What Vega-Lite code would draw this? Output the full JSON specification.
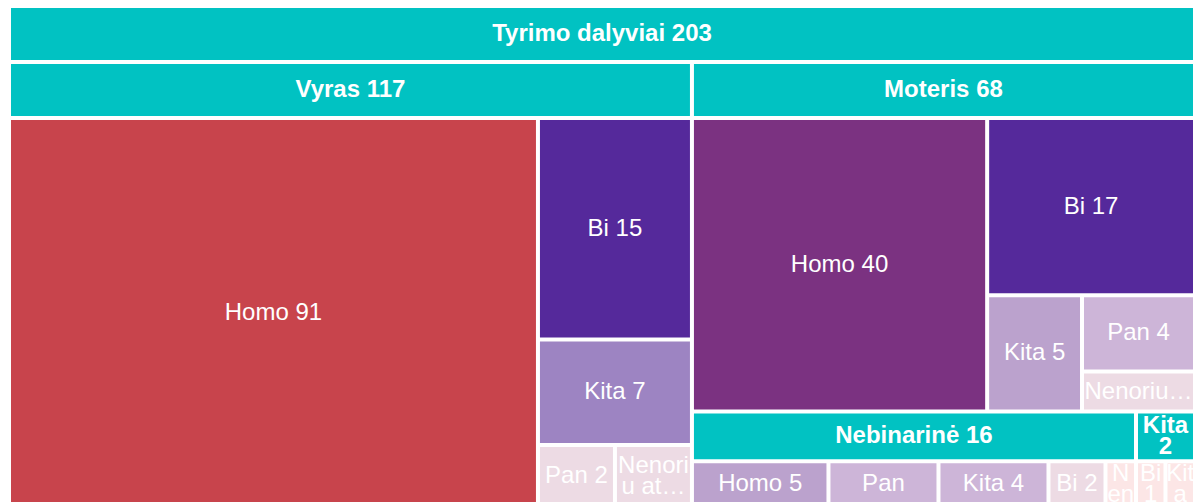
{
  "$schema": "https://vega.github.io/schema/vega-lite/v6.json",
  "autosize": "none",
  "width": 1182,
  "height": 494,
  "padding": {"left": 11, "top": 8, "right": 0, "bottom": 0},
  "background": "white",
  "config": {"view": {"stroke": null}},
  "datasets": {
    "tree": [
      {"path": "T", "name": "Tyrimo dalyviai", "count": 203, "type": "group", "label": "Tyrimo dalyviai 203"},
      {"path": "T/Vyras", "name": "Vyras", "count": 117, "type": "group", "label": "Vyras 117"},
      {"path": "T/Vyras/Homo", "name": "Homo", "count": 91, "type": "leaf", "label": "Homo 91"},
      {"path": "T/Vyras/s/Bi", "name": "Bi", "count": 15, "type": "leaf", "label": "Bi 15"},
      {"path": "T/Vyras/s/Kita", "name": "Kita", "count": 7, "type": "leaf", "label": "Kita 7"},
      {"path": "T/Vyras/s/r/Pan", "name": "Pan", "count": 2, "type": "leaf", "label": "Pan 2"},
      {"path": "T/Vyras/s/r/Nenoriu atsakyti", "name": "Nenoriu atsakyti", "count": 2, "type": "leaf", "label": "Nenori\nu at…"},
      {"path": "T/R/Moteris", "name": "Moteris", "count": 68, "type": "group", "label": "Moteris 68"},
      {"path": "T/R/Moteris/Homo", "name": "Homo", "count": 40, "type": "leaf", "label": "Homo 40"},
      {"path": "T/R/Moteris/s/Bi", "name": "Bi", "count": 17, "type": "leaf", "label": "Bi 17"},
      {"path": "T/R/Moteris/s/t/Kita", "name": "Kita", "count": 5, "type": "leaf", "label": "Kita 5"},
      {"path": "T/R/Moteris/s/t/u/Pan", "name": "Pan", "count": 4, "type": "leaf", "label": "Pan 4"},
      {"path": "T/R/Moteris/s/t/u/Nenoriu atsakyti", "name": "Nenoriu atsakyti", "count": 2, "type": "leaf", "label": "Nenoriu…"},
      {"path": "T/R/n/Nebinarinė", "name": "Nebinarinė", "count": 16, "type": "group", "label": "Nebinarinė 16"},
      {"path": "T/R/n/Nebinarinė/Homo", "name": "Homo", "count": 5, "type": "leaf", "label": "Homo 5"},
      {"path": "T/R/n/Nebinarinė/Pan", "name": "Pan", "count": 4, "type": "leaf", "label": "Pan"},
      {"path": "T/R/n/Nebinarinė/Kita", "name": "Kita", "count": 4, "type": "leaf", "label": "Kita 4"},
      {"path": "T/R/n/Nebinarinė/Bi", "name": "Bi", "count": 2, "type": "leaf", "label": "Bi 2"},
      {"path": "T/R/n/Nebinarinė/Nenoriu atsakyti", "name": "Nenoriu atsakyti", "count": 1, "type": "leaf", "label": "N\nen"},
      {"path": "T/R/n/Kita", "name": "Kita", "count": 2, "type": "group", "label": "Kita\n2"},
      {"path": "T/R/n/Kita/Bi", "name": "Bi", "count": 1, "type": "leaf", "label": "Bi\n1"},
      {"path": "T/R/n/Kita/Kita", "name": "Kita", "count": 1, "type": "leaf", "label": "Kit\na"}
    ],
    "splits": [
      {"node": "T", "dir": "x"},
      {"node": "T/Vyras", "dir": "x"},
      {"node": "T/Vyras/s", "dir": "y"},
      {"node": "T/Vyras/s/r", "dir": "x"},
      {"node": "T/R", "dir": "y"},
      {"node": "T/R/Moteris", "dir": "x"},
      {"node": "T/R/Moteris/s", "dir": "y"},
      {"node": "T/R/Moteris/s/t", "dir": "x"},
      {"node": "T/R/Moteris/s/t/u", "dir": "y"},
      {"node": "T/R/n", "dir": "x"},
      {"node": "T/R/n/Nebinarinė", "dir": "x"},
      {"node": "T/R/n/Kita", "dir": "x"}
    ]
  },
  "data": {"name": "tree"},
  "transform": [
    {"window": [{"op": "row_number", "as": "idx"}]},
    {"calculate": "split(datum.path, '/')", "as": "parts"},
    {"calculate": "length(datum.parts)", "as": "depth"},
    {"calculate": "datum.type == 'leaf' ? datum.count : 0", "as": "size"},
    {"calculate": "0", "as": "x0"},
    {"calculate": "1182", "as": "x1"},
    {"calculate": "0", "as": "y0"},
    {"calculate": "497", "as": "y1"},
    {"calculate": "min(52, (datum.y1 - datum.y0) / 2)", "as": "hh"},
    {"calculate": "datum.depth == 1 ? datum.y0 + datum.hh : datum.y1", "as": "y1"},
    {"calculate": "datum.depth > 1 ? datum.y0 + datum.hh + 4 : datum.y0", "as": "y0"},

    {"calculate": "datum.depth >= 2 ? join(slice(datum.parts, 0, 1), '/') : '~' + datum.path", "as": "par"},
    {"calculate": "datum.depth >= 2 ? join(slice(datum.parts, 0, 2), '/') : '~' + datum.path", "as": "key"},
    {"calculate": "datum.type == 'group' && datum.depth == 2 ? 1 : 0", "as": "ih"},
    {"stack": "size", "groupby": ["par"], "sort": [{"field": "idx", "order": "ascending"}], "as": ["s0", "s1"]},
    {"joinaggregate": [{"op": "min", "field": "s0", "as": "a"}, {"op": "max", "field": "s1", "as": "b"}, {"op": "max", "field": "ih", "as": "hf"}], "groupby": ["key"]},
    {"joinaggregate": [{"op": "sum", "field": "size", "as": "tot"}], "groupby": ["par"]},
    {"window": [{"op": "dense_rank", "as": "r"}], "sort": [{"field": "a", "order": "ascending"}], "groupby": ["par"]},
    {"joinaggregate": [{"op": "max", "field": "r", "as": "n"}], "groupby": ["par"]},
    {"lookup": "par", "from": {"data": {"name": "splits"}, "key": "node", "fields": ["dir"]}, "as": ["dir"]},
    {"calculate": "datum.dir == 'x' ? datum.x1 - datum.x0 : datum.y1 - datum.y0", "as": "L"},
    {"calculate": "datum.depth >= 2 && datum.tot > 0 && datum.dir == 'x' ? datum.x0 + (datum.L - (datum.n - 1) * 4) * datum.b / datum.tot + (datum.r - 1) * 4 : datum.x1", "as": "x1"},
    {"calculate": "datum.depth >= 2 && datum.tot > 0 && datum.dir == 'x' ? datum.x0 + (datum.L - (datum.n - 1) * 4) * datum.a / datum.tot + (datum.r - 1) * 4 : datum.x0", "as": "x0"},
    {"calculate": "datum.depth >= 2 && datum.tot > 0 && datum.dir == 'y' ? datum.y0 + (datum.L - (datum.n - 1) * 4) * datum.b / datum.tot + (datum.r - 1) * 4 : datum.y1", "as": "y1"},
    {"calculate": "datum.depth >= 2 && datum.tot > 0 && datum.dir == 'y' ? datum.y0 + (datum.L - (datum.n - 1) * 4) * datum.a / datum.tot + (datum.r - 1) * 4 : datum.y0", "as": "y0"},
    {"calculate": "min(52, (datum.y1 - datum.y0) / 2)", "as": "hh"},
    {"calculate": "datum.depth >= 2 && datum.hf == 1 && datum.ih == 1 ? datum.y0 + datum.hh : datum.y1", "as": "y1"},
    {"calculate": "datum.depth >= 2 && datum.hf == 1 && datum.ih == 0 ? datum.y0 + datum.hh + 4 : datum.y0", "as": "y0"},

    {"calculate": "datum.depth >= 3 ? join(slice(datum.parts, 0, 2), '/') : '~' + datum.path", "as": "par"},
    {"calculate": "datum.depth >= 3 ? join(slice(datum.parts, 0, 3), '/') : '~' + datum.path", "as": "key"},
    {"calculate": "datum.type == 'group' && datum.depth == 3 ? 1 : 0", "as": "ih"},
    {"stack": "size", "groupby": ["par"], "sort": [{"field": "idx", "order": "ascending"}], "as": ["s0", "s1"]},
    {"joinaggregate": [{"op": "min", "field": "s0", "as": "a"}, {"op": "max", "field": "s1", "as": "b"}, {"op": "max", "field": "ih", "as": "hf"}], "groupby": ["key"]},
    {"joinaggregate": [{"op": "sum", "field": "size", "as": "tot"}], "groupby": ["par"]},
    {"window": [{"op": "dense_rank", "as": "r"}], "sort": [{"field": "a", "order": "ascending"}], "groupby": ["par"]},
    {"joinaggregate": [{"op": "max", "field": "r", "as": "n"}], "groupby": ["par"]},
    {"lookup": "par", "from": {"data": {"name": "splits"}, "key": "node", "fields": ["dir"]}, "as": ["dir"]},
    {"calculate": "datum.dir == 'x' ? datum.x1 - datum.x0 : datum.y1 - datum.y0", "as": "L"},
    {"calculate": "datum.depth >= 3 && datum.tot > 0 && datum.dir == 'x' ? datum.x0 + (datum.L - (datum.n - 1) * 4) * datum.b / datum.tot + (datum.r - 1) * 4 : datum.x1", "as": "x1"},
    {"calculate": "datum.depth >= 3 && datum.tot > 0 && datum.dir == 'x' ? datum.x0 + (datum.L - (datum.n - 1) * 4) * datum.a / datum.tot + (datum.r - 1) * 4 : datum.x0", "as": "x0"},
    {"calculate": "datum.depth >= 3 && datum.tot > 0 && datum.dir == 'y' ? datum.y0 + (datum.L - (datum.n - 1) * 4) * datum.b / datum.tot + (datum.r - 1) * 4 : datum.y1", "as": "y1"},
    {"calculate": "datum.depth >= 3 && datum.tot > 0 && datum.dir == 'y' ? datum.y0 + (datum.L - (datum.n - 1) * 4) * datum.a / datum.tot + (datum.r - 1) * 4 : datum.y0", "as": "y0"},
    {"calculate": "min(52, (datum.y1 - datum.y0) / 2)", "as": "hh"},
    {"calculate": "datum.depth >= 3 && datum.hf == 1 && datum.ih == 1 ? datum.y0 + datum.hh : datum.y1", "as": "y1"},
    {"calculate": "datum.depth >= 3 && datum.hf == 1 && datum.ih == 0 ? datum.y0 + datum.hh + 4 : datum.y0", "as": "y0"},

    {"calculate": "datum.depth >= 4 ? join(slice(datum.parts, 0, 3), '/') : '~' + datum.path", "as": "par"},
    {"calculate": "datum.depth >= 4 ? join(slice(datum.parts, 0, 4), '/') : '~' + datum.path", "as": "key"},
    {"calculate": "datum.type == 'group' && datum.depth == 4 ? 1 : 0", "as": "ih"},
    {"stack": "size", "groupby": ["par"], "sort": [{"field": "idx", "order": "ascending"}], "as": ["s0", "s1"]},
    {"joinaggregate": [{"op": "min", "field": "s0", "as": "a"}, {"op": "max", "field": "s1", "as": "b"}, {"op": "max", "field": "ih", "as": "hf"}], "groupby": ["key"]},
    {"joinaggregate": [{"op": "sum", "field": "size", "as": "tot"}], "groupby": ["par"]},
    {"window": [{"op": "dense_rank", "as": "r"}], "sort": [{"field": "a", "order": "ascending"}], "groupby": ["par"]},
    {"joinaggregate": [{"op": "max", "field": "r", "as": "n"}], "groupby": ["par"]},
    {"lookup": "par", "from": {"data": {"name": "splits"}, "key": "node", "fields": ["dir"]}, "as": ["dir"]},
    {"calculate": "datum.dir == 'x' ? datum.x1 - datum.x0 : datum.y1 - datum.y0", "as": "L"},
    {"calculate": "datum.depth >= 4 && datum.tot > 0 && datum.dir == 'x' ? datum.x0 + (datum.L - (datum.n - 1) * 4) * datum.b / datum.tot + (datum.r - 1) * 4 : datum.x1", "as": "x1"},
    {"calculate": "datum.depth >= 4 && datum.tot > 0 && datum.dir == 'x' ? datum.x0 + (datum.L - (datum.n - 1) * 4) * datum.a / datum.tot + (datum.r - 1) * 4 : datum.x0", "as": "x0"},
    {"calculate": "datum.depth >= 4 && datum.tot > 0 && datum.dir == 'y' ? datum.y0 + (datum.L - (datum.n - 1) * 4) * datum.b / datum.tot + (datum.r - 1) * 4 : datum.y1", "as": "y1"},
    {"calculate": "datum.depth >= 4 && datum.tot > 0 && datum.dir == 'y' ? datum.y0 + (datum.L - (datum.n - 1) * 4) * datum.a / datum.tot + (datum.r - 1) * 4 : datum.y0", "as": "y0"},
    {"calculate": "min(52, (datum.y1 - datum.y0) / 2)", "as": "hh"},
    {"calculate": "datum.depth >= 4 && datum.hf == 1 && datum.ih == 1 ? datum.y0 + datum.hh : datum.y1", "as": "y1"},
    {"calculate": "datum.depth >= 4 && datum.hf == 1 && datum.ih == 0 ? datum.y0 + datum.hh + 4 : datum.y0", "as": "y0"},

    {"calculate": "datum.depth >= 5 ? join(slice(datum.parts, 0, 4), '/') : '~' + datum.path", "as": "par"},
    {"calculate": "datum.depth >= 5 ? join(slice(datum.parts, 0, 5), '/') : '~' + datum.path", "as": "key"},
    {"stack": "size", "groupby": ["par"], "sort": [{"field": "idx", "order": "ascending"}], "as": ["s0", "s1"]},
    {"joinaggregate": [{"op": "min", "field": "s0", "as": "a"}, {"op": "max", "field": "s1", "as": "b"}], "groupby": ["key"]},
    {"joinaggregate": [{"op": "sum", "field": "size", "as": "tot"}], "groupby": ["par"]},
    {"window": [{"op": "dense_rank", "as": "r"}], "sort": [{"field": "a", "order": "ascending"}], "groupby": ["par"]},
    {"joinaggregate": [{"op": "max", "field": "r", "as": "n"}], "groupby": ["par"]},
    {"lookup": "par", "from": {"data": {"name": "splits"}, "key": "node", "fields": ["dir"]}, "as": ["dir"]},
    {"calculate": "datum.dir == 'x' ? datum.x1 - datum.x0 : datum.y1 - datum.y0", "as": "L"},
    {"calculate": "datum.depth >= 5 && datum.tot > 0 && datum.dir == 'x' ? datum.x0 + (datum.L - (datum.n - 1) * 4) * datum.b / datum.tot + (datum.r - 1) * 4 : datum.x1", "as": "x1"},
    {"calculate": "datum.depth >= 5 && datum.tot > 0 && datum.dir == 'x' ? datum.x0 + (datum.L - (datum.n - 1) * 4) * datum.a / datum.tot + (datum.r - 1) * 4 : datum.x0", "as": "x0"},
    {"calculate": "datum.depth >= 5 && datum.tot > 0 && datum.dir == 'y' ? datum.y0 + (datum.L - (datum.n - 1) * 4) * datum.b / datum.tot + (datum.r - 1) * 4 : datum.y1", "as": "y1"},
    {"calculate": "datum.depth >= 5 && datum.tot > 0 && datum.dir == 'y' ? datum.y0 + (datum.L - (datum.n - 1) * 4) * datum.a / datum.tot + (datum.r - 1) * 4 : datum.y0", "as": "y0"},

    {"calculate": "datum.depth >= 6 ? join(slice(datum.parts, 0, 5), '/') : '~' + datum.path", "as": "par"},
    {"calculate": "datum.depth >= 6 ? join(slice(datum.parts, 0, 6), '/') : '~' + datum.path", "as": "key"},
    {"stack": "size", "groupby": ["par"], "sort": [{"field": "idx", "order": "ascending"}], "as": ["s0", "s1"]},
    {"joinaggregate": [{"op": "min", "field": "s0", "as": "a"}, {"op": "max", "field": "s1", "as": "b"}], "groupby": ["key"]},
    {"joinaggregate": [{"op": "sum", "field": "size", "as": "tot"}], "groupby": ["par"]},
    {"window": [{"op": "dense_rank", "as": "r"}], "sort": [{"field": "a", "order": "ascending"}], "groupby": ["par"]},
    {"joinaggregate": [{"op": "max", "field": "r", "as": "n"}], "groupby": ["par"]},
    {"lookup": "par", "from": {"data": {"name": "splits"}, "key": "node", "fields": ["dir"]}, "as": ["dir"]},
    {"calculate": "datum.dir == 'x' ? datum.x1 - datum.x0 : datum.y1 - datum.y0", "as": "L"},
    {"calculate": "datum.depth >= 6 && datum.tot > 0 && datum.dir == 'x' ? datum.x0 + (datum.L - (datum.n - 1) * 4) * datum.b / datum.tot + (datum.r - 1) * 4 : datum.x1", "as": "x1"},
    {"calculate": "datum.depth >= 6 && datum.tot > 0 && datum.dir == 'x' ? datum.x0 + (datum.L - (datum.n - 1) * 4) * datum.a / datum.tot + (datum.r - 1) * 4 : datum.x0", "as": "x0"},
    {"calculate": "datum.depth >= 6 && datum.tot > 0 && datum.dir == 'y' ? datum.y0 + (datum.L - (datum.n - 1) * 4) * datum.b / datum.tot + (datum.r - 1) * 4 : datum.y1", "as": "y1"},
    {"calculate": "datum.depth >= 6 && datum.tot > 0 && datum.dir == 'y' ? datum.y0 + (datum.L - (datum.n - 1) * 4) * datum.a / datum.tot + (datum.r - 1) * 4 : datum.y0", "as": "y0"},

    {"calculate": "datum.depth >= 7 ? join(slice(datum.parts, 0, 6), '/') : '~' + datum.path", "as": "par"},
    {"calculate": "datum.depth >= 7 ? join(slice(datum.parts, 0, 7), '/') : '~' + datum.path", "as": "key"},
    {"stack": "size", "groupby": ["par"], "sort": [{"field": "idx", "order": "ascending"}], "as": ["s0", "s1"]},
    {"joinaggregate": [{"op": "min", "field": "s0", "as": "a"}, {"op": "max", "field": "s1", "as": "b"}], "groupby": ["key"]},
    {"joinaggregate": [{"op": "sum", "field": "size", "as": "tot"}], "groupby": ["par"]},
    {"window": [{"op": "dense_rank", "as": "r"}], "sort": [{"field": "a", "order": "ascending"}], "groupby": ["par"]},
    {"joinaggregate": [{"op": "max", "field": "r", "as": "n"}], "groupby": ["par"]},
    {"lookup": "par", "from": {"data": {"name": "splits"}, "key": "node", "fields": ["dir"]}, "as": ["dir"]},
    {"calculate": "datum.dir == 'x' ? datum.x1 - datum.x0 : datum.y1 - datum.y0", "as": "L"},
    {"calculate": "datum.depth >= 7 && datum.tot > 0 && datum.dir == 'x' ? datum.x0 + (datum.L - (datum.n - 1) * 4) * datum.b / datum.tot + (datum.r - 1) * 4 : datum.x1", "as": "x1"},
    {"calculate": "datum.depth >= 7 && datum.tot > 0 && datum.dir == 'x' ? datum.x0 + (datum.L - (datum.n - 1) * 4) * datum.a / datum.tot + (datum.r - 1) * 4 : datum.x0", "as": "x0"},
    {"calculate": "datum.depth >= 7 && datum.tot > 0 && datum.dir == 'y' ? datum.y0 + (datum.L - (datum.n - 1) * 4) * datum.b / datum.tot + (datum.r - 1) * 4 : datum.y1", "as": "y1"},
    {"calculate": "datum.depth >= 7 && datum.tot > 0 && datum.dir == 'y' ? datum.y0 + (datum.L - (datum.n - 1) * 4) * datum.a / datum.tot + (datum.r - 1) * 4 : datum.y0", "as": "y0"},

    {"calculate": "(datum.x0 + datum.x1) / 2", "as": "xc"},
    {"calculate": "(datum.y0 + datum.y1) / 2 - (length(split(datum.label, '\\n')) - 1) * 10.5", "as": "yc"}
  ],
  "encoding": {
    "x": {"field": "x0", "type": "quantitative", "scale": {"domain": [0, 1182], "nice": false, "zero": false}, "axis": null},
    "y": {"field": "y0", "type": "quantitative", "scale": {"domain": [0, 494], "nice": false, "zero": false, "reverse": true}, "axis": null}
  },
  "layer": [
    {
      "transform": [{"filter": "datum.type == 'leaf'"}],
      "mark": {"type": "rect"},
      "encoding": {
        "x2": {"field": "x1"},
        "y2": {"field": "y1"},
        "color": {
          "field": "count",
          "type": "quantitative",
          "legend": null,
          "scale": {
            "type": "linear",
            "domain": [1, 2, 4, 5, 7, 15, 17, 40, 91],
            "range": ["#fce6e6", "#eddbe4", "#cdb5d8", "#bba2cd", "#9d84c2", "#55299b", "#55299b", "#7b3281", "#c8444c"]
          }
        }
      }
    },
    {
      "transform": [{"filter": "datum.type == 'group'"}],
      "mark": {"type": "rect", "color": "#01c2c2"},
      "encoding": {
        "x2": {"field": "x1"},
        "y2": {"field": "y1"}
      }
    },
    {
      "transform": [{"filter": "datum.type == 'leaf'"}],
      "mark": {"type": "text", "font": "Liberation Sans", "fontSize": 24, "color": "white", "align": "center", "baseline": "middle", "lineBreak": "\n", "lineHeight": 21},
      "encoding": {
        "x": {"field": "xc", "type": "quantitative"},
        "y": {"field": "yc", "type": "quantitative"},
        "text": {"field": "label"}
      }
    },
    {
      "transform": [{"filter": "datum.type == 'group'"}],
      "mark": {"type": "text", "font": "Liberation Sans", "fontSize": 24, "fontWeight": "bold", "color": "white", "align": "center", "baseline": "middle", "lineBreak": "\n", "lineHeight": 21},
      "encoding": {
        "x": {"field": "xc", "type": "quantitative"},
        "y": {"field": "yc", "type": "quantitative"},
        "text": {"field": "label"}
      }
    }
  ]
}
